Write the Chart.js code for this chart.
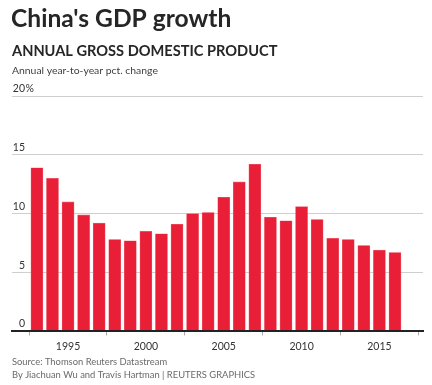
<!DOCTYPE html>
<html>
<head>
<meta charset="utf-8">
<script src="https://cdn.jsdelivr.net/npm/chart.js@4/dist/chart.umd.min.js"></script>
<style>
  html, body { margin: 0; padding: 0; background: #fff; }
  #wrap { position: relative; width: 432px; height: 385px; }
</style>
</head>
<body>
<div id="wrap"><canvas id="c" width="432" height="385"></canvas></div>
<script>
// ---- data ----
const years = [1993, 1994, 1995, 1996, 1997, 1998, 1999, 2000, 2001, 2002, 2003, 2004,
               2005, 2006, 2007, 2008, 2009, 2010, 2011, 2012, 2013, 2014, 2015, 2016];
const gdpGrowth = [13.9, 13.0, 11.0, 9.9, 9.2, 7.8, 7.7, 8.5, 8.3, 9.1, 10.0, 10.1,
                   11.4, 12.7, 14.2, 9.7, 9.4, 10.6, 9.5, 7.9, 7.8, 7.3, 6.9, 6.7];
const xTickYears = [1995, 2000, 2005, 2010, 2015];
const yTickValues = [0, 5, 10, 15, 20];
const titleText = "China's GDP growth";
const subtitleText = "ANNUAL GROSS DOMESTIC PRODUCT";
const noteText = "Annual year-to-year pct. change";
const sourceText = "Source: Thomson Reuters Datastream";
const bylineText = "By Jiachuan Wu and Travis Hartman | REUTERS GRAPHICS";

const FONT = "Lato, 'Source Sans Pro', 'Open Sans', sans-serif";

const textPlugin = {
  id: 'texts',
  afterDraw(chart) {
    const ctx = chart.ctx;
    ctx.save();
    ctx.textBaseline = 'alphabetic';
    ctx.textAlign = 'left';
    ctx.fillStyle = '#262626';
    ctx.font = "bold 24.6px " + FONT;
    ctx.fillText(titleText, 11, 27);
    ctx.font = "bold 14.6px " + FONT;
    ctx.fillText(subtitleText, 12, 55.5);
    ctx.fillStyle = '#404040';
    ctx.font = "10.4px " + FONT;
    ctx.fillText(noteText, 12, 74);
    ctx.fillStyle = '#6a6a6a';
    ctx.font = "9.4px " + FONT;
    ctx.fillText(sourceText, 12, 364.7);
    ctx.fillText(bylineText, 12, 378.3);
    // y tick labels
    const ys = chart.scales.y;
    ctx.fillStyle = '#333333';
    ctx.font = "10.5px " + FONT;
    ys.ticks.forEach((t, i) => {
      const py = ys.getPixelForValue(t.value);
      ctx.textAlign = 'right';
      ctx.fillText(String(t.value), 25, py - 4);
      if (i === ys.ticks.length - 1) {
        ctx.textAlign = 'left';
        ctx.fillText('%', 25.5, py - 4);
      }
    });
    ctx.restore();
  }
};

new Chart(document.getElementById('c'), {
  type: 'bar',
  data: {
    datasets: [{
      data: years.map((y, i) => ({ x: y, y: gdpGrowth[i] })),
      backgroundColor: '#e81f37',
      borderColor: '#f0606f',
      borderWidth: 0.6,
      barThickness: 12,
    }]
  },
  options: {
    responsive: false,
    animation: false,
    devicePixelRatio: 1,
    layout: { padding: { top: 96, left: 12, right: 9, bottom: 27 } },
    plugins: { legend: { display: false }, tooltip: { enabled: false }, title: { display: false } },
    scales: {
      x: {
        type: 'linear',
        offset: false,
        min: 1991.4,
        max: 2017.8,
        afterBuildTicks: (s) => { s.ticks = xTickYears.map(v => ({ value: v })); },
        ticks: {
          callback: (v) => String(v),
          color: '#333333',
          font: { family: FONT, size: 10.5 },
          padding: 5,
          maxRotation: 0,
          autoSkip: false,
        },
        grid: { drawOnChartArea: false, drawTicks: true, tickLength: 4, color: '#aaaaaa' },
        border: { display: true, color: '#222222', width: 2, z: 2 },
      },
      y: {
        min: 0,
        max: 20,
        afterBuildTicks: (s) => { s.ticks = yTickValues.map(v => ({ value: v })); },
        ticks: { display: false },
        grid: { drawTicks: false, color: '#cfcfcf', lineWidth: 1 },
        border: { display: false },
      }
    }
  },
  plugins: [textPlugin]
});
</script>
</body>
</html>
